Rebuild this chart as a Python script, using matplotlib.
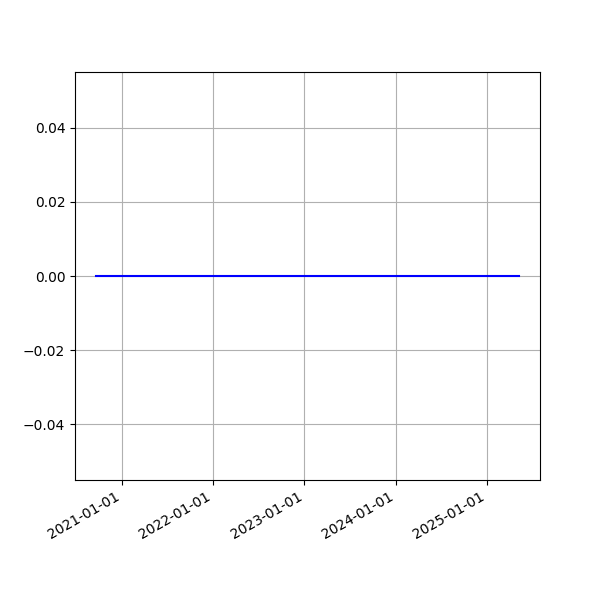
import matplotlib
matplotlib.use("Agg")
import matplotlib.pyplot as plt
import matplotlib.dates as mdates
import pandas as pd

dates = ["2020-09-20", "2021-06-01", "2022-03-01", "2022-12-01", "2023-09-01", "2024-06-01", "2025-05-08"]
values = [0, 0, 0, 0, 0, 0, 0]

x = pd.to_datetime(dates)

fig, ax = plt.subplots(figsize=(6, 6), dpi=100)
ax.plot(x, values, color="blue")
ax.xaxis.set_major_locator(mdates.YearLocator())
ax.xaxis.set_major_formatter(mdates.DateFormatter("%Y-%m-%d"))
ax.grid(True)
fig.autofmt_xdate()
fig.savefig("out.png")
